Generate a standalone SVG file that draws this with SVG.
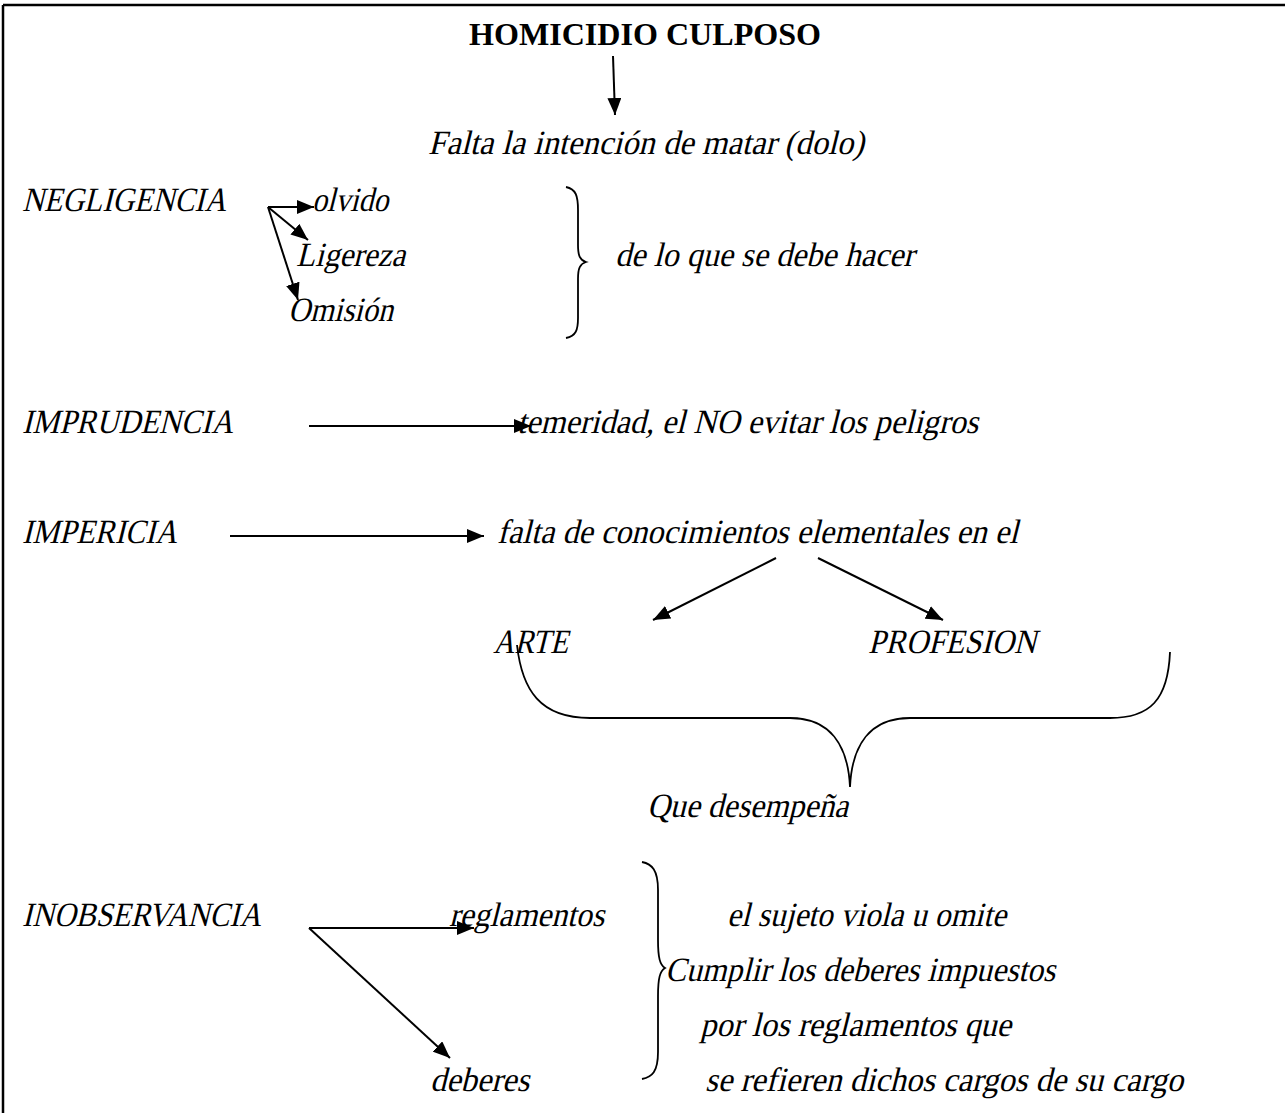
<svg xmlns="http://www.w3.org/2000/svg" width="1285" height="1113" viewBox="0 0 1285 1113">
<style>
text{font-family:"Liberation Serif","Times New Roman",serif;font-size:34px;font-style:normal;fill:#000}
.title{font-weight:bold;font-size:32px}
.ln{stroke:#000;stroke-width:2;fill:none}
.br{stroke:#000;stroke-width:1.8;fill:none}
</style>
<defs>
<marker id="ah" viewBox="0 0 17 14" refX="17" refY="7" markerWidth="17" markerHeight="14" markerUnits="userSpaceOnUse" orient="auto">
<path d="M0,0 L17,7 L0,14 Z" fill="#000"/>
</marker>
</defs>
<rect width="1285" height="1113" fill="#fff"/>
<g id="border">
<line x1="3" y1="5" x2="1285" y2="5" stroke="#000" stroke-width="2.5"/>
<line x1="3" y1="5" x2="3" y2="1113" stroke="#000" stroke-width="2.5"/>
</g>
<g id="connectors">
<line class="ln" x1="613" y1="56" x2="615" y2="115" marker-end="url(#ah)"/>
<line class="ln" x1="268" y1="207" x2="314" y2="207" marker-end="url(#ah)"/>
<line class="ln" x1="268" y1="207" x2="308" y2="240" marker-end="url(#ah)"/>
<line class="ln" x1="268" y1="207" x2="298" y2="300" marker-end="url(#ah)"/>
<line class="ln" x1="309" y1="426" x2="531" y2="426" marker-end="url(#ah)"/>
<line class="ln" x1="230" y1="536" x2="484" y2="536" marker-end="url(#ah)"/>
<line class="ln" x1="776" y1="558" x2="653" y2="620" marker-end="url(#ah)"/>
<line class="ln" x1="818" y1="558" x2="943" y2="620" marker-end="url(#ah)"/>
<line class="ln" x1="309" y1="928" x2="474" y2="928" marker-end="url(#ah)"/>
<line class="ln" x1="309" y1="928" x2="450" y2="1058" marker-end="url(#ah)"/>
</g>
<g id="braces">
<path class="br" d="M566,187 C576,189 578,196 578,210 L578,245 C578,256 580,260 586,262 C580,264 578,268 578,279 L578,318 C578,330 576,336 566,338"/>
<path class="br" d="M517,645 C522,690 540,718 590,718 L790,718 C830,718 848,745 850,787 C852,745 870,718 910,718 L1110,718 C1150,718 1168,700 1170,652"/>
<path class="br" d="M642,862 C652,864 658,870 658,890 L658,940 C658,958 660,965 665,968 C660,971 658,978 658,996 L658,1052 C658,1072 652,1077 642,1079"/>
</g>
<g id="n-title"><text class="title" x="469" y="45" textLength="352" lengthAdjust="spacingAndGlyphs">HOMICIDIO CULPOSO</text></g>
<g id="n-falta"><text transform="translate(428,154) skewX(-14)" textLength="436" lengthAdjust="spacingAndGlyphs">Falta la intención de matar (dolo)</text></g>
<g id="n-negligencia"><text transform="translate(22,211) skewX(-14)" textLength="204" lengthAdjust="spacingAndGlyphs">NEGLIGENCIA</text></g>
<g id="n-olvido"><text transform="translate(312,211) skewX(-14)" textLength="76" lengthAdjust="spacingAndGlyphs">olvido</text></g>
<g id="n-ligereza"><text transform="translate(296,266) skewX(-14)" textLength="109" lengthAdjust="spacingAndGlyphs">Ligereza</text></g>
<g id="n-omision"><text transform="translate(288,321) skewX(-14)" textLength="105" lengthAdjust="spacingAndGlyphs">Omisión</text></g>
<g id="n-delo"><text transform="translate(615,266) skewX(-14)" textLength="299" lengthAdjust="spacingAndGlyphs">de lo que se debe hacer</text></g>
<g id="n-imprudencia"><text transform="translate(22,433) skewX(-14)" textLength="211" lengthAdjust="spacingAndGlyphs">IMPRUDENCIA</text></g>
<g id="n-temeridad"><text transform="translate(517,433) skewX(-14)" textLength="461" lengthAdjust="spacingAndGlyphs">temeridad, el NO evitar los peligros</text></g>
<g id="n-impericia"><text transform="translate(22,543) skewX(-14)" textLength="155" lengthAdjust="spacingAndGlyphs">IMPERICIA</text></g>
<g id="n-faltadecon"><text transform="translate(497,543) skewX(-14)" textLength="521" lengthAdjust="spacingAndGlyphs">falta de conocimientos elementales en el</text></g>
<g id="n-arte"><text transform="translate(493,653) skewX(-14)" textLength="75" lengthAdjust="spacingAndGlyphs">ARTE</text></g>
<g id="n-profesion"><text transform="translate(868,653) skewX(-14)" textLength="168" lengthAdjust="spacingAndGlyphs">PROFESION</text></g>
<g id="n-que"><text transform="translate(647,817) skewX(-14)" textLength="201" lengthAdjust="spacingAndGlyphs">Que desempeña</text></g>
<g id="n-inobservancia"><text transform="translate(22,926) skewX(-14)" textLength="239" lengthAdjust="spacingAndGlyphs">INOBSERVANCIA</text></g>
<g id="n-reglamentos"><text transform="translate(449,926) skewX(-14)" textLength="155" lengthAdjust="spacingAndGlyphs">reglamentos</text></g>
<g id="n-deberes"><text transform="translate(430,1091) skewX(-14)" textLength="99" lengthAdjust="spacingAndGlyphs">deberes</text></g>
<g id="n-sujeto"><text transform="translate(727,926) skewX(-14)" textLength="279" lengthAdjust="spacingAndGlyphs">el sujeto viola u omite</text></g>
<g id="n-cumplir"><text transform="translate(665,981) skewX(-14)" textLength="390" lengthAdjust="spacingAndGlyphs">Cumplir los deberes impuestos</text></g>
<g id="n-por"><text transform="translate(700,1036) skewX(-14)" textLength="311" lengthAdjust="spacingAndGlyphs">por los reglamentos que</text></g>
<g id="n-se"><text transform="translate(705,1091) skewX(-14)" textLength="478" lengthAdjust="spacingAndGlyphs">se refieren dichos cargos de su cargo</text></g>
</svg>
